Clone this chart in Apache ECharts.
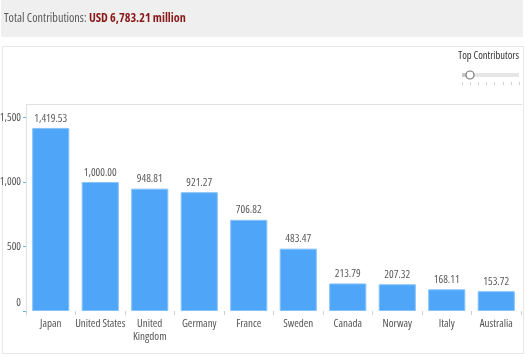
<!DOCTYPE html>
<html>
<head>
<meta charset="utf-8">
<script src="https://cdn.jsdelivr.net/npm/echarts@6/dist/echarts.min.js"></script>
<style>
html,body{margin:0;padding:0;background:#fff;}
#main{width:527px;height:357px;}
</style>
</head>
<body>
<div id="main"></div>
<script>
var categories = ['Japan', 'United States', 'United\nKingdom', 'Germany', 'France', 'Sweden', 'Canada', 'Norway', 'Italy', 'Australia'];
var values = [1419.53, 1000.00, 948.81, 921.27, 706.82, 483.47, 213.79, 207.32, 168.11, 153.72];
var yTicks = [0, 500, 1000, 1500];
var totalText = 'USD 6,783.21 million';

var FONT = "'Open Sans', sans-serif";
var ST = 'condensed';
function fmt2(v){ return v.toLocaleString('en-US',{minimumFractionDigits:2, maximumFractionDigits:2}); }

var chart = echarts.init(document.getElementById('main'), null, {renderer:'canvas'});

var sliderTicks = [462, 470, 478, 486, 494, 503, 511, 519];
var graphics = [
  {type:'rect', shape:{x:1, y:0, width:522, height:37}, style:{fill:'#efefef'}, silent:true, z:-1},
  {type:'text', x:4, y:19, style:{
    text:'{a|Total Contributions: }{b|' + totalText + '}',
    verticalAlign:'middle',
    rich:{
      a:{fontSize:12.2, fill:'#5a5a5a', fontFamily:FONT, fontStyle:ST},
      b:{fontSize:12.2, fill:'#8b1a1a', fontWeight:'bold', fontFamily:FONT, fontStyle:ST}
    }
  }},
  {type:'rect', shape:{x:2.5, y:46.5, width:521, height:307}, style:{fill:'#fff', stroke:'#e6e6e6', lineWidth:1}, z:-1, silent:true},
  {type:'text', x:519, y:56, style:{text:'Top Contributors', fontSize:10.5, fill:'#333', fontFamily:FONT, fontStyle:ST, align:'right', verticalAlign:'middle'}},
  {type:'rect', shape:{x:462, y:73, width:57, height:4}, style:{fill:'#e6e6e6'}},
  {type:'rect', shape:{x:462, y:73, width:6, height:4}, style:{fill:'#c8c8c8'}},
  {type:'circle', shape:{cx:470, cy:75, r:4}, style:{fill:'#fff', stroke:'#777', lineWidth:1.2}},
  {type:'line', shape:{x1:26, y1:104.5, x2:522, y2:104.5}, style:{stroke:'#e0e0e0', lineWidth:1}}
];
sliderTicks.forEach(function(x){
  graphics.push({type:'line', shape:{x1:x+0.5, y1:82, x2:x+0.5, y2:85}, style:{stroke:'#d0d0d0', lineWidth:1}});
});

var option = {
  animation:false,
  textStyle:{fontFamily:FONT, fontStyle:ST},
  grid:{left:26, right:6, top:104, bottom:46, containLabel:false, outerBoundsMode:'none'},
  xAxis:{
    type:'category',
    data:categories,
    axisLine:{show:false},
    axisTick:{show:true, alignWithLabel:false, length:4, lineStyle:{color:'#cfcfcf'}},
    axisLabel:{interval:0, color:'#555', fontSize:11, margin:6, lineHeight:13, fontFamily:FONT, fontStyle:ST, hideOverlap:false}
  },
  yAxis:{
    type:'value',
    min:0, max:1605, interval:500,
    axisLine:{show:true, lineStyle:{color:'#e0e0e0'}},
    axisTick:{show:true, length:3, lineStyle:{color:'#5bbde6'}},
    splitLine:{show:false},
    axisLabel:{
      showMaxLabel:false, color:'#555', fontSize:11, margin:5, fontFamily:FONT, fontStyle:ST,
      formatter:function(v){ return v === 0 ? '{z|0}' : v.toLocaleString('en-US'); },
      rich:{z:{fontSize:11, color:'#555', padding:[0,0,16,0], fontFamily:FONT, fontStyle:ST}}
    }
  },
  series:[{
    type:'bar',
    data:values,
    barCategoryGap:'25%',
    itemStyle:{color:'#4fa6f8', borderColor:'#86c2fa', borderWidth:1},
    label:{show:true, position:'top', distance:4, color:'#5a5a5a', fontSize:11, fontFamily:FONT, fontStyle:ST,
      formatter:function(p){ return fmt2(p.value); }}
  }],
  graphic:graphics
};
chart.setOption(option);
</script>
</body>
</html>
